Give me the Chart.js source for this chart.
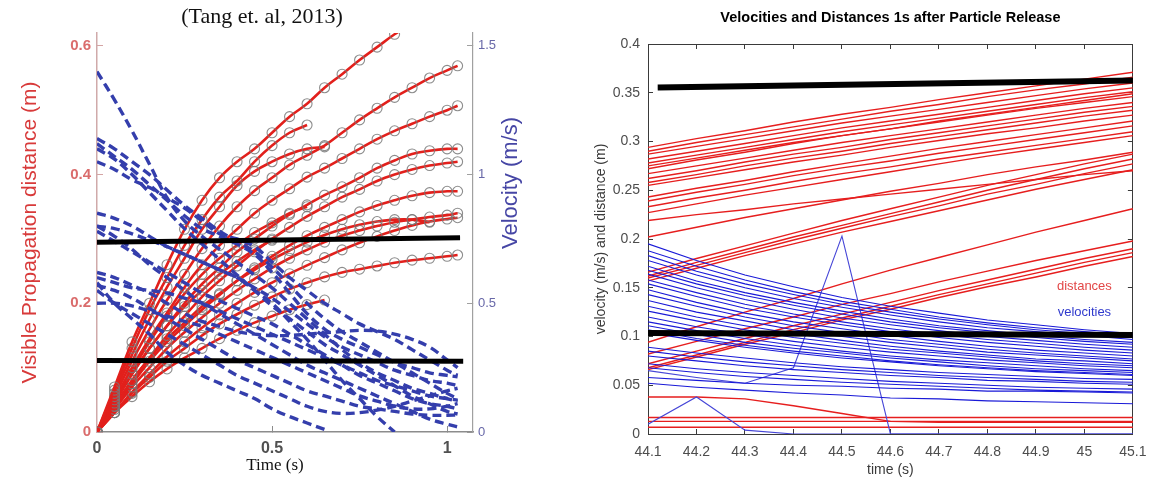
<!DOCTYPE html>
<html><head><meta charset="utf-8">
<script src="https://cdn.jsdelivr.net/npm/chart.js@4.4.0/dist/chart.umd.min.js"></script>
<style>
html,body{margin:0;padding:0;background:#fff;width:1161px;height:484px;overflow:hidden}
#c1{position:absolute;left:0;top:0}
#c2{position:absolute;left:560px;top:0}
</style></head><body>
<canvas id="c1" width="524" height="484"></canvas>
<canvas id="c2" width="601" height="484"></canvas>
<script>
// ---------------- LEFT PANEL DATA (Tang et al., 2013) ----------------
const leftTime = [0,0.05,0.1,0.15,0.2,0.25,0.3,0.35,0.4,0.45,0.5,0.55,0.6,0.65,0.7,0.75,0.8,0.85,0.9,0.95,1.0,1.03];
const leftTimeTicks = [0,0.5,1];
const leftDistTicks = [0,0.2,0.4,0.6];
const leftVelTicks = [0,0.5,1,1.5];

// propagation distances (m)
const distR1 = [0,0.07,0.14,0.2,0.26,0.315,0.36,0.395,0.42,0.44,0.465,0.49,0.51,0.535,0.556,0.578,0.598,0.618,0.635];
const distS1 = [0,0.065,0.13,0.19,0.24,0.29,0.33,0.365,0.39,0.42,0.445,0.465,0.477];
const distS2 = [0,0.06,0.12,0.175,0.225,0.27,0.315,0.35,0.383,0.405,0.42,0.432,0.44,0.443];
const distR2 = [0,0.055,0.11,0.16,0.205,0.245,0.285,0.32,0.35,0.375,0.395,0.415,0.43,0.445,0.465,0.485,0.503,0.52,0.535,0.55,0.562,0.569];
const distR3 = [0,0.05,0.1,0.145,0.185,0.225,0.26,0.29,0.315,0.34,0.36,0.378,0.396,0.41,0.425,0.44,0.455,0.468,0.479,0.49,0.5,0.507];
const distR4 = [0,0.045,0.09,0.13,0.165,0.2,0.23,0.255,0.28,0.3,0.32,0.338,0.353,0.368,0.381,0.395,0.41,0.422,0.432,0.437,0.44,0.44];
const distR5 = [0,0.04,0.08,0.115,0.15,0.18,0.21,0.235,0.258,0.28,0.3,0.318,0.335,0.35,0.365,0.377,0.39,0.4,0.408,0.414,0.418,0.42];
const distR6 = [0,0.04,0.075,0.11,0.14,0.165,0.19,0.213,0.235,0.255,0.273,0.29,0.305,0.318,0.33,0.342,0.352,0.36,0.367,0.372,0.374,0.374];
const distR7 = [0,0.035,0.07,0.1,0.13,0.155,0.178,0.2,0.22,0.238,0.255,0.27,0.283,0.295,0.305,0.313,0.32,0.326,0.33,0.334,0.337,0.34];
const distR8 = [0,0.04,0.08,0.115,0.145,0.17,0.195,0.215,0.235,0.252,0.268,0.282,0.295,0.306,0.315,0.322,0.327,0.33,0.33,0.326];
const distR9 = [0,0.03,0.062,0.09,0.117,0.14,0.162,0.182,0.2,0.217,0.232,0.246,0.259,0.271,0.283,0.294,0.304,0.313,0.321,0.327,0.331,0.333];
const distR10 = [0,0.03,0.06,0.085,0.11,0.13,0.15,0.168,0.183,0.197,0.21,0.222,0.232,0.241,0.248,0.253,0.258,0.263,0.267,0.27,0.273,0.275];
const distS3 = [0,0.03,0.055,0.078,0.098,0.115,0.13,0.145,0.158,0.17,0.18,0.19,0.198,0.205];
const distS4 = [0,0.045,0.09,0.13,0.165,0.195,0.22,0.245,0.265,0.283,0.298];
const distS5 = [0,0.05,0.095,0.14,0.18,0.215,0.245,0.27,0.29,0.31,0.325,0.34,0.35];
const leftDistanceSeries = [distR1,distS1,distS2,distR2,distR3,distR4,distR5,distR6,distR7,distR8,distR9,distR10,distS3,distS4,distS5];

// velocities (m/s)
const velB1 = [1.40,1.29,1.17,1.04,0.91,0.82,0.76,0.71,0.66,0.61,0.56,0.50,0.44,0.38,0.32,0.27,0.23,0.20,0.17,0.15,0.13,0.12];
const velB2 = [1.14,1.10,1.05,1.00,0.94,0.88,0.83,0.78,0.74,0.70,0.64,0.57,0.50,0.44,0.39,0.35,0.31,0.27,0.23,0.19,0.15,0.13];
const velB3 = [1.10,1.06,1.00,0.93,0.86,0.79,0.73,0.67,0.61,0.55,0.49,0.44,0.39,0.34,0.30,0.26,0.22,0.18,0.14,0.11,0.08,0.07];
const velB4 = [1.05,1.02,0.98,0.95,0.91,0.87,0.82,0.77,0.75,0.72,0.66,0.60,0.55,0.50,0.46,0.42,0.39,0.36,0.32,0.28,0.24,0.22];
const velB5 = [0.80,0.79,0.77,0.745,0.72,0.69,0.66,0.63,0.60,0.55,0.50,0.43,0.36,0.28,0.20,0.13,0.06,0.0];
const velB6 = [0.78,0.74,0.70,0.66,0.62,0.58,0.54,0.51,0.48,0.45,0.42,0.38,0.34,0.30,0.26,0.22,0.19,0.16,0.13,0.11,0.10,0.09];
const velB7 = [0.85,0.83,0.80,0.76,0.72,0.69,0.66,0.63,0.60,0.56,0.52,0.47,0.42,0.37,0.33,0.30,0.27,0.24,0.22,0.20,0.19,0.18];
const velB8 = [0.57,0.55,0.52,0.48,0.44,0.40,0.36,0.32,0.28,0.25,0.22,0.19,0.16,0.14,0.12,0.10,0.09,0.08,0.07,0.065,0.065,0.066];
const velB9 = [0.50,0.50,0.49,0.47,0.45,0.43,0.41,0.38,0.35,0.32,0.29,0.26,0.23,0.20,0.17,0.14,0.12,0.10,0.09,0.09,0.10,0.11];
const velB10 = [1.12,1.07,1.02,0.96,0.90,0.84,0.79,0.76,0.73,0.69,0.62,0.54,0.46,0.40,0.36,0.33,0.30,0.27,0.25,0.23,0.22,0.214];
const velB11 = [0.60,0.58,0.56,0.55,0.54,0.52,0.50,0.47,0.44,0.41,0.38,0.35,0.32,0.29,0.26,0.23,0.20,0.18,0.16,0.14,0.13,0.124];
const velB12 = [0.80,0.76,0.71,0.65,0.60,0.55,0.50,0.46,0.42,0.38,0.34,0.30,0.26,0.23,0.20,0.17,0.14,0.11,0.08,0.05,0.03,0.02];
const velB13 = [0.58,0.50,0.44,0.38,0.31,0.26,0.22,0.19,0.16,0.13,0.09,0.06,0.035,0.01];
const velB14 = [0.55,0.50,0.46,0.42,0.38,0.34,0.30,0.26,0.22,0.19,0.16,0.13,0.10,0.08,0.072,0.075,0.085,0.10,0.12,0.14,0.16,0.17];
const velB15 = [0.62,0.60,0.57,0.54,0.50,0.46,0.43,0.41,0.39,0.38,0.375,0.375,0.38,0.385,0.39,0.395,0.392,0.38,0.36,0.33,0.28,0.25];
const leftVelocitySeries = [velB1,velB2,velB3,velB4,velB5,velB6,velB7,velB8,velB9,velB10,velB11,velB12,velB13,velB14,velB15];

// hand-drawn black reference lines (left axis units)
const leftBlackTime = [0, 1.037];
const leftBlackUpper = [0.295, 0.302];
const leftBlackLowerTime = [0, 1.046];
const leftBlackLower = [0.111, 0.110];

// ---------------- RIGHT PANEL DATA ----------------
const rightTime = [44.1,44.2,44.3,44.4,44.5,44.6,44.7,44.8,44.9,45.0,45.1];
const rightTimeTicks = [44.1,44.2,44.3,44.4,44.5,44.6,44.7,44.8,44.9,45.0,45.1];
const rightValueTicks = [0,0.05,0.1,0.15,0.2,0.25,0.3,0.35,0.4];

const rd01 = [0.294,0.303,0.311,0.320,0.328,0.335,0.343,0.350,0.357,0.364,0.371];
const rd02 = [0.290,0.299,0.307,0.315,0.323,0.331,0.338,0.346,0.353,0.359,0.366];
const rd03 = [0.287,0.295,0.303,0.311,0.319,0.326,0.333,0.340,0.347,0.354,0.360];
const rd04 = [0.282,0.290,0.298,0.306,0.314,0.321,0.328,0.335,0.342,0.349,0.355];
const rd05 = [0.278,0.286,0.294,0.302,0.310,0.317,0.324,0.331,0.338,0.345,0.351];
const rd06 = [0.275,0.283,0.291,0.299,0.306,0.313,0.320,0.327,0.334,0.340,0.346];
const rd07 = [0.272,0.281,0.289,0.298,0.306,0.313,0.321,0.328,0.335,0.342,0.349];
const rd08 = [0.267,0.275,0.283,0.291,0.299,0.306,0.313,0.320,0.327,0.334,0.340];
const rd09 = [0.262,0.270,0.279,0.287,0.294,0.302,0.309,0.316,0.323,0.330,0.336];
const rd10 = [0.258,0.266,0.275,0.283,0.290,0.298,0.305,0.312,0.319,0.326,0.332];
const rd11 = [0.255,0.263,0.271,0.279,0.286,0.294,0.301,0.308,0.314,0.321,0.327];
const rd12 = [0.243,0.252,0.260,0.269,0.277,0.285,0.293,0.300,0.307,0.314,0.321];
const rd13 = [0.239,0.248,0.256,0.265,0.273,0.280,0.288,0.295,0.302,0.309,0.316];
const rd14 = [0.233,0.242,0.250,0.259,0.267,0.274,0.282,0.289,0.296,0.303,0.310];
const rd15 = [0.227,0.236,0.245,0.253,0.261,0.269,0.277,0.285,0.292,0.299,0.306];
const rd16 = [0.219,0.225,0.230,0.236,0.241,0.246,0.251,0.256,0.261,0.266,0.270];
const rd17 = [0.202,0.212,0.222,0.231,0.240,0.249,0.257,0.266,0.274,0.281,0.289];
const rd18 = [0.166,0.180,0.193,0.206,0.219,0.231,0.243,0.255,0.266,0.277,0.287];
const rd19 = [0.162,0.176,0.189,0.202,0.214,0.226,0.238,0.250,0.261,0.272,0.282];
const rd20 = [0.160,0.173,0.186,0.199,0.211,0.223,0.234,0.246,0.256,0.267,0.277];
const rd21 = [0.157,0.170,0.183,0.195,0.207,0.218,0.229,0.240,0.251,0.261,0.271];
const rd22 = [0.094,0.110,0.125,0.139,0.154,0.168,0.181,0.194,0.207,0.219,0.231];
const rd23 = [0.082,0.095,0.108,0.120,0.133,0.144,0.156,0.167,0.178,0.188,0.198];
const rd24 = [0.072,0.085,0.098,0.111,0.123,0.135,0.147,0.158,0.169,0.180,0.190];
const rd25 = [0.068,0.081,0.094,0.107,0.119,0.131,0.143,0.154,0.165,0.176,0.186];
const rd26 = [0.066,0.079,0.092,0.104,0.117,0.128,0.140,0.151,0.161,0.172,0.182];
const rd27 = [0.038,0.038,0.036,0.029,0.021,0.013,0.012,0.012,0.012,0.012,0.012];
const rd28 = [0.017,0.017,0.017,0.017,0.017,0.017,0.017,0.017,0.017,0.017,0.017];
const rd29 = [0.013,0.013,0.013,0.013,0.013,0.013,0.013,0.013,0.013,0.013,0.013];
const rd30 = [0.007,0.007,0.007,0.007,0.007,0.007,0.007,0.007,0.007,0.007,0.007];
const rightDistanceSeries = [rd01,rd02,rd03,rd04,rd05,rd06,rd07,rd08,rd09,rd10,rd11,rd12,rd13,rd14,rd15,rd16,rd17,rd18,rd19,rd20,rd21,rd22,rd23,rd24,rd25,rd26,rd27,rd28,rd29,rd30];

const rv01 = [0.195,0.178,0.163,0.151,0.140,0.131,0.124,0.117,0.112,0.107,0.103];
const rv02 = [0.188,0.172,0.158,0.146,0.136,0.128,0.120,0.114,0.109,0.105,0.101];
const rv03 = [0.183,0.167,0.154,0.143,0.133,0.125,0.118,0.112,0.107,0.103,0.099];
const rv04 = [0.178,0.163,0.150,0.139,0.130,0.122,0.115,0.109,0.105,0.101,0.097];
const rv05 = [0.172,0.157,0.145,0.135,0.126,0.118,0.111,0.106,0.101,0.097,0.094];
const rv06 = [0.168,0.154,0.142,0.132,0.123,0.115,0.109,0.104,0.099,0.095,0.092];
const rv07 = [0.164,0.150,0.138,0.128,0.119,0.112,0.106,0.100,0.096,0.092,0.089];
const rv08 = [0.158,0.145,0.133,0.123,0.115,0.108,0.102,0.097,0.093,0.089,0.086];
const rv09 = [0.154,0.141,0.129,0.120,0.112,0.105,0.099,0.094,0.090,0.086,0.083];
const rv10 = [0.148,0.135,0.124,0.115,0.108,0.101,0.095,0.090,0.086,0.083,0.080];
const rv11 = [0.143,0.131,0.120,0.111,0.104,0.097,0.092,0.087,0.083,0.080,0.077];
const rv12 = [0.137,0.125,0.116,0.107,0.100,0.094,0.089,0.084,0.081,0.078,0.075];
const rv13 = [0.131,0.120,0.111,0.103,0.096,0.090,0.085,0.081,0.077,0.075,0.072];
const rv14 = [0.126,0.116,0.107,0.099,0.093,0.087,0.083,0.079,0.075,0.072,0.070];
const rv15 = [0.120,0.110,0.102,0.095,0.089,0.084,0.080,0.076,0.073,0.070,0.068];
const rv16 = [0.115,0.106,0.098,0.091,0.085,0.080,0.076,0.073,0.070,0.067,0.065];
const rv17 = [0.111,0.102,0.094,0.088,0.083,0.078,0.074,0.070,0.067,0.065,0.063];
const rv18 = [0.107,0.098,0.091,0.085,0.080,0.075,0.071,0.068,0.065,0.063,0.061];
const rv19 = [0.104,0.096,0.089,0.083,0.078,0.074,0.070,0.067,0.064,0.062,0.060];
const rv20 = [0.089,0.083,0.078,0.073,0.069,0.066,0.063,0.061,0.059,0.057,0.056];
const rv21 = [0.085,0.079,0.074,0.070,0.066,0.063,0.060,0.058,0.056,0.054,0.053];
const rv22 = [0.080,0.075,0.070,0.066,0.063,0.060,0.058,0.055,0.054,0.052,0.051];
const rv23 = [0.072,0.067,0.063,0.060,0.057,0.054,0.052,0.050,0.048,0.047,0.046];
const rv24 = [0.068,0.063,0.059,0.056,0.053,0.051,0.049,0.047,0.045,0.044,0.043];
const rv25 = [0.058,0.055,0.052,0.050,0.049,0.047,0.046,0.044,0.044,0.043,0.042];
const rv26 = [0.052,0.048,0.045,0.042,0.040,0.037,0.036,0.034,0.033,0.032,0.031];
const rv27 = [0.065,0.058,0.052,0.068,0.203,0.000,0,0,0,0,0];
const rv28 = [0.010,0.038,0.004,0,0,0,0,0,0,0,0];
const rightVelocitySeries = [rv01,rv02,rv03,rv04,rv05,rv06,rv07,rv08,rv09,rv10,rv11,rv12,rv13,rv14,rv15,rv16,rv17,rv18,rv19,rv20,rv21,rv22,rv23,rv24,rv25,rv26,rv27,rv28];

const rightBlackTime = [44.12, 45.105];
const rightBlackUpper = [0.3555, 0.3625];
const rightBlackLowerTime = [44.1, 45.1];
const rightBlackLower = [0.1035, 0.1015];

// ---------------- HELPERS ----------------
const SANS = '"Liberation Sans", Arial, Helvetica, sans-serif';
const SERIF = '"Liberation Serif", "Times New Roman", serif';
Chart.defaults.font.family = SANS;
const pts = (xs, ys) => ys.map((y, i) => ({x: xs[i], y: y}));
const setTicks = arr => (s => { s.ticks = arr.map(v => ({value: v})); });
const fmt = v => String(Math.round(v * 1000) / 1000);

// ---------------- LEFT CHART ----------------
const leftSets = [];
leftSets.push({data: pts(leftBlackTime, leftBlackUpper), yAxisID: 'y', borderColor: '#000', borderWidth: 5, pointRadius: 0, tension: 0});
leftSets.push({data: pts(leftBlackLowerTime, leftBlackLower), yAxisID: 'y', borderColor: '#000', borderWidth: 5, pointRadius: 0, tension: 0});
leftVelocitySeries.forEach(s => leftSets.push({
  data: pts(leftTime, s), yAxisID: 'y2', borderColor: 'rgb(52,62,172)', borderWidth: 3.4,
  borderDash: [9, 5], pointRadius: 0, tension: 0.4, fill: false
}));
leftDistanceSeries.forEach(s => leftSets.push({
  data: pts(leftTime, s), yAxisID: 'y', borderColor: 'rgb(226,32,28)', borderWidth: 2.6,
  pointRadius: 5, pointStyle: 'circle', pointBorderColor: 'rgba(120,120,120,0.85)', pointBorderWidth: 1.1,
  pointBackgroundColor: 'rgba(255,255,255,0)', tension: 0.4, fill: false
}));

const leftText = {
  id: 'leftText',
  afterDraw(chart) {
    const ctx = chart.ctx;
    ctx.save();
    ctx.textAlign = 'center'; ctx.textBaseline = 'middle';
    ctx.fillStyle = '#111';
    ctx.font = '22px ' + SERIF;
    ctx.fillText('(Tang et. al, 2013)', 262, 17);
    ctx.font = '17px ' + SERIF;
    ctx.fillText('Time (s)', 275, 466);
    ctx.translate(511, 183); ctx.rotate(-Math.PI / 2);
    ctx.fillStyle = 'rgb(70,70,165)';
    ctx.font = '22px ' + SANS;
    ctx.fillText('Velocity (m/s)', 0, 0);
    ctx.restore();
  }
};

new Chart(document.getElementById('c1'), {
  type: 'line',
  data: {datasets: leftSets},
  options: {
    responsive: false, animation: false, devicePixelRatio: 1,
    layout: {padding: {top: 33, left: 0, right: 0, bottom: 0}},
    plugins: {legend: {display: false}, tooltip: {enabled: false}, title: {display: false}},
    scales: {
      x: {
        type: 'linear', min: 0, max: 1.074, position: 'bottom',
        afterBuildTicks: setTicks(leftTimeTicks), afterFit: s => { s.height = 52; },
        grid: {drawOnChartArea: false, tickLength: -6, color: '#8c8c8c'},
        border: {display: true, color: '#8c8c8c', width: 1.5},
        ticks: {padding: 13, color: '#505050', font: {size: 16, weight: 'bold'}, maxRotation: 0, autoSkip: false, callback: fmt}
      },
      y: {
        type: 'linear', position: 'left', min: 0, max: 0.62,
        afterBuildTicks: setTicks(leftDistTicks), afterFit: s => { s.width = 97; },
        grid: {drawOnChartArea: false, tickLength: -6, color: '#d4a4a4'},
        border: {display: true, color: '#d0aaaa', width: 1.5},
        ticks: {padding: 12, color: 'rgb(218,108,108)', font: {size: 15, weight: 'bold'}, autoSkip: false, callback: fmt},
        title: {display: true, text: 'Visible Propagation distance (m)', color: 'rgb(216,58,58)', font: {size: 21}, padding: {top: 18, bottom: 0}}
      },
      y2: {
        type: 'linear', position: 'right', min: 0, max: 1.55,
        afterBuildTicks: setTicks(leftVelTicks), afterFit: s => { s.width = 51; },
        grid: {drawOnChartArea: false, tickLength: -6, color: '#a0a0a0'},
        border: {display: true, color: '#a0a0a0', width: 1.2},
        ticks: {padding: 11, color: 'rgb(104,104,168)', font: {size: 13}, autoSkip: false, callback: fmt}
      }
    }
  },
  plugins: [leftText]
});

// ---------------- RIGHT CHART ----------------
const rightSets = [];
rightSets.push({data: pts(rightBlackTime, rightBlackUpper), borderColor: '#000', borderWidth: 6, pointRadius: 0, tension: 0});
rightSets.push({data: pts(rightBlackLowerTime, rightBlackLower), borderColor: '#000', borderWidth: 6, pointRadius: 0, tension: 0});
rightVelocitySeries.forEach((s, i) => rightSets.push({
  data: pts(rightTime, s), borderColor: i >= 26 ? 'rgb(70,70,215)' : 'rgb(25,25,215)', borderWidth: 1.1, pointRadius: 0, tension: 0
}));
rightDistanceSeries.forEach(s => rightSets.push({
  data: pts(rightTime, s), borderColor: 'rgb(230,30,30)', borderWidth: 1.4, pointRadius: 0, tension: 0
}));

const rightText = {
  id: 'rightText',
  afterDraw(chart) {
    const ctx = chart.ctx, xs = chart.scales.x, ys = chart.scales.y;
    ctx.save();
    ctx.textAlign = 'center'; ctx.textBaseline = 'middle';
    ctx.font = '13px ' + SANS;
    ctx.fillStyle = 'rgb(226,70,70)';
    ctx.fillText('distances', xs.getPixelForValue(45.0), ys.getPixelForValue(0.151));
    ctx.fillStyle = 'rgb(48,58,205)';
    ctx.fillText('velocities', xs.getPixelForValue(45.0), ys.getPixelForValue(0.125));
    ctx.restore();
  }
};

const boxGrid = {drawOnChartArea: false, tickLength: -5, color: '#3a3a3a'};
const boxBorder = {display: true, color: '#3a3a3a', width: 1};

new Chart(document.getElementById('c2'), {
  type: 'line',
  data: {datasets: rightSets},
  options: {
    responsive: false, animation: false, devicePixelRatio: 1,
    layout: {padding: 0},
    plugins: {
      legend: {display: false}, tooltip: {enabled: false},
      title: {display: true, fullSize: false, text: 'Velocities and Distances 1s after Particle Release', color: '#000',
        font: {size: 14.5, weight: 'bold'}, padding: {top: 9, bottom: 17.6}}
    },
    scales: {
      x: {
        type: 'linear', position: 'bottom', min: 44.1, max: 45.1,
        afterBuildTicks: setTicks(rightTimeTicks), afterFit: s => { s.height = 50; },
        grid: boxGrid, border: boxBorder,
        ticks: {padding: 14.5, color: '#4d4d4d', font: {size: 14}, maxRotation: 0, autoSkip: false, callback: fmt},
        title: {display: true, text: 'time (s)', color: '#3a3a3a', font: {size: 14}, padding: {top: 0, bottom: 5.6}}
      },
      xTop: {
        type: 'linear', position: 'top', min: 44.1, max: 45.1,
        afterBuildTicks: setTicks(rightTimeTicks), afterFit: s => { s.height = 0; },
        grid: boxGrid, border: boxBorder, ticks: {display: false}
      },
      y: {
        type: 'linear', position: 'left', min: 0, max: 0.4,
        afterBuildTicks: setTicks(rightValueTicks), afterFit: s => { s.width = 88; },
        grid: boxGrid, border: boxBorder,
        ticks: {padding: 13, color: '#4d4d4d', font: {size: 14}, autoSkip: false, callback: fmt},
        title: {display: true, text: 'velocity (m/s) and distance (m)', color: '#3a3a3a', font: {size: 14}, padding: {top: 32.6, bottom: 0}}
      },
      yRight: {
        type: 'linear', position: 'right', min: 0, max: 0.4,
        afterBuildTicks: setTicks(rightValueTicks), afterFit: s => { s.width = 13; },
        grid: boxGrid, border: boxBorder, ticks: {display: false}
      }
    }
  },
  plugins: [rightText]
});
</script>
</body></html>
